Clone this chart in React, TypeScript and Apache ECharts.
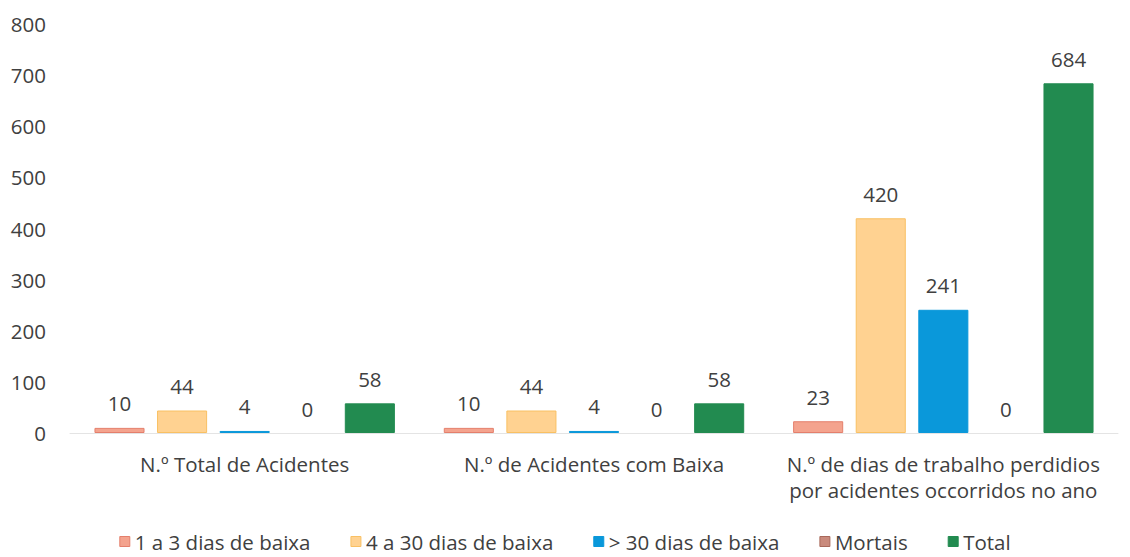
import React, { useEffect, useRef } from "react";
import * as echarts from "echarts";

const categories = [
  "N.º Total de Acidentes",
  "N.º de Acidentes com Baixa",
  "N.º de dias de trabalho perdidios\npor acidentes occorridos no ano",
];
const seriesNames = ["1 a 3 dias de baixa", "4 a 30 dias de baixa", "> 30 dias de baixa", "Mortais", "Total"];
const days1to3 = [10, 10, 23];
const days4to30 = [44, 44, 420];
const daysOver30 = [4, 4, 241];
const mortais = [0, 0, 0];
const total = [58, 58, 684];
const yTicks = { min: 0, max: 800, interval: 100 };

const fills = ["#F4A38E", "#FFD291", "#0A98DA", "#C98A7C", "#228B50"];
const borders = ["#E47F6C", "#F9C063", "#0A98DA", "#A8685A", "#228B50"];

export default function App() {
  const ref = useRef<HTMLDivElement>(null);
  useEffect(() => {
    if (!ref.current) return;
    const chart = echarts.init(ref.current, null, { renderer: "svg" });
    const values = [days1to3, days4to30, daysOver30, mortais, total];
    const font = "'Open Sans', sans-serif";
    const fs = 20.5;
    chart.setOption({
      animation: false,
      textStyle: { fontFamily: font },
      grid: { left: 70, right: 12, top: 24, bottom: 124, containLabel: false },
      legend: {
        bottom: 0,
        left: "center",
        itemWidth: 10,
        itemHeight: 10,
        itemGap: 40,
        icon: "rect",
        textStyle: { fontSize: fs, color: "#404040", fontFamily: font },
        data: seriesNames.map((name, i) => ({
          name,
          itemStyle: { color: fills[i], borderColor: borders[i], borderWidth: 1 },
        })),
      },
      xAxis: {
        type: "category",
        data: categories,
        axisLine: { show: true, lineStyle: { color: "#E4E4E4", width: 1 } },
        axisTick: { show: false },
        axisLabel: { interval: 0, fontSize: fs, color: "#404040", margin: 18, lineHeight: 26, fontFamily: font },
      },
      yAxis: {
        type: "value",
        min: yTicks.min,
        max: yTicks.max,
        interval: yTicks.interval,
        axisLine: { show: false },
        axisTick: { show: false },
        splitLine: { show: false },
        axisLabel: { fontSize: fs, color: "#404040", margin: 24, fontFamily: font },
      },
      series: seriesNames.map((name, i) => ({
        name,
        type: "bar",
        data: values[i],
        barGap: "25%",
        barCategoryGap: "14%",
        itemStyle: { color: fills[i], borderColor: borders[i], borderWidth: name === "Mortais" ? 0 : 1 },
        label: {
          show: true,
          position: "top",
          distance: 14,
          fontSize: fs,
          color: "#404040",
          fontFamily: font,
        },
      })),
    });
    return () => chart.dispose();
  }, []);
  return (
    <div
      ref={ref}
      style={{ position: "fixed", left: 0, top: 0, width: 1130, height: 557, background: "#fff" }}
    />
  );
}
